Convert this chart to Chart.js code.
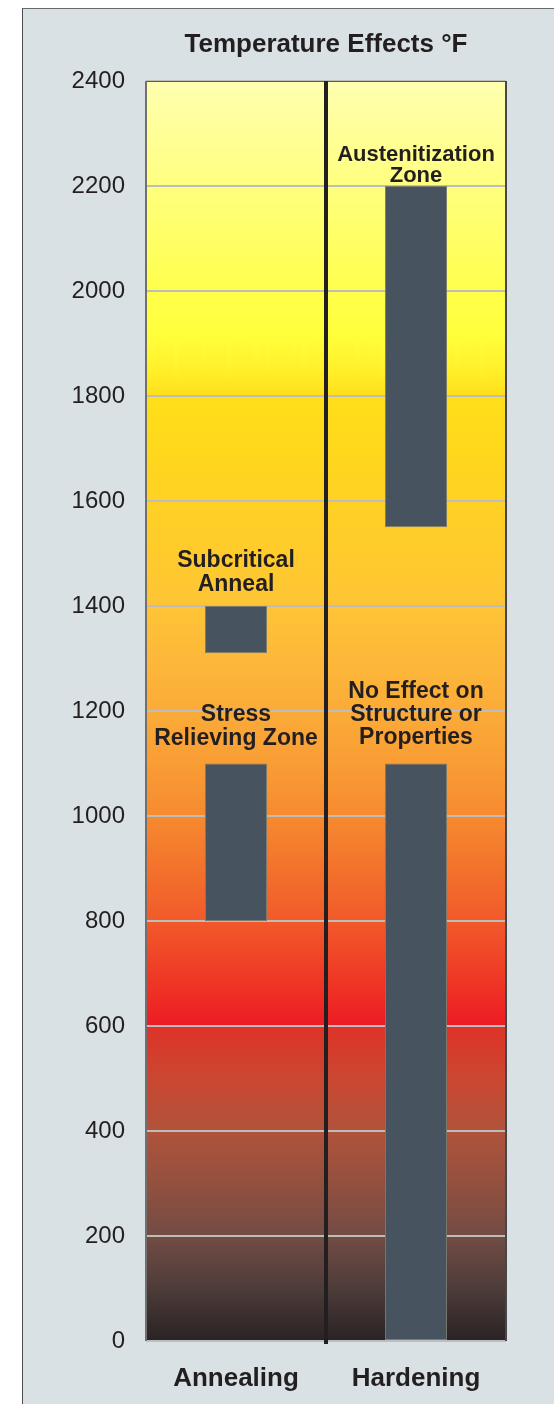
<!DOCTYPE html>
<html>
<head>
<meta charset="utf-8">
<script src="https://cdn.jsdelivr.net/npm/chart.js@4/dist/chart.umd.min.js"></script>
<style>
  html, body { margin: 0; padding: 0; background: #ffffff; overflow: hidden; }
  #panel {
    position: absolute; left: 22px; top: 8px; width: 620px; height: 1500px;
    background: #d9e1e5; border-left: 1.5px solid #4d4d4d; border-top: 1px solid #6a6a6a;
  }
  #chart { position: absolute; left: 0; top: 0; }
</style>
</head>
<body>
<div id="panel"></div>
<canvas id="chart" width="554" height="1404"></canvas>
<script>
// Process categories
const categories = ['Annealing', 'Hardening'];

// Temperature ranges (°F) for each process: [low, high]
const upperRanges = [[1310, 1400], [1550, 2200]];
const lowerRanges = [[800, 1100], [0, 1100]];

// Zone names printed above each range
const upperLabels = [['Subcritical', 'Anneal'], ['Austenitization', 'Zone']];
const lowerLabels = [['Stress', 'Relieving Zone'], ['No Effect on', 'Structure or', 'Properties']];

// Temperature axis
const yTickValues = [0, 200, 400, 600, 800, 1000, 1200, 1400, 1600, 1800, 2000, 2200, 2400];

const TEXT = '#231f20';
const FONT = '"Liberation Sans", Arial, Helvetica, sans-serif';
const BAR_FILL = '#47535e';
const BAR_EDGE = '#7c7d72';

// Heat colour ramp behind the bars, keyed by temperature
const heatStops = [
  [0, '#2a2224'], [100, '#4d3c3a'], [200, '#724c44'], [300, '#93503f'],
  [400, '#b0533b'], [500, '#cb4731'], [598, '#de3328'], [602, '#ed1c24'],
  [700, '#ef3b26'], [800, '#f15a2a'], [900, '#f3722c'], [1000, '#f68a2f'],
  [1100, '#f99d35'], [1200, '#fbab38'], [1300, '#fdb83a'], [1400, '#fec436'],
  [1500, '#ffcb2c'], [1600, '#ffd124'], [1700, '#ffd81c'], [1800, '#ffdf1a'],
  [1850, '#fff02a'], [1920, '#ffff3c'], [2000, '#ffff4c'], [2100, '#ffff66'],
  [2200, '#ffff80'], [2300, '#ffff98'], [2400, '#ffffb0']
];

// Label layout per bar: gap above bar top, line height, font
const upperLabelStyle = [
  { gap: 15, lineHeight: 24, font: 'bold 23px ' + FONT },
  { gap: 4, lineHeight: 21, font: 'bold 22px ' + FONT }
];
const lowerLabelStyle = [
  { gap: 19, lineHeight: 24, font: 'bold 23px ' + FONT },
  { gap: 20, lineHeight: 23, font: 'bold 23px ' + FONT }
];

const heatBackground = {
  id: 'heatBackground',
  beforeDraw(chart) {
    const { ctx, chartArea: a, scales: { y } } = chart;
    ctx.save();
    ctx.beginPath();
    ctx.rect(a.left, a.top, a.right - a.left, a.bottom - a.top);
    ctx.clip();
    const g = ctx.createLinearGradient(0, y.getPixelForValue(0), 0, y.getPixelForValue(2400));
    heatStops.forEach(([v, c]) => g.addColorStop(v / 2400, c));
    ctx.fillStyle = g;
    ctx.fillRect(a.left, a.top, a.right - a.left, a.bottom - a.top);

    // soft flame tongues where the gold turns into bright yellow
    const widths = [11, 15, 9, 17, 12, 14, 10, 16, 13, 9, 15, 12];
    const reach = [1830, 1870, 1820, 1880, 1840, 1860, 1825, 1875, 1845, 1835, 1865, 1850];
    const top = y.getPixelForValue(1960);
    let x = a.left, i = 0;
    while (x < a.right) {
      const w = widths[i % widths.length];
      const low = y.getPixelForValue(reach[i % reach.length]);
      const fg = ctx.createLinearGradient(0, top, 0, low);
      fg.addColorStop(0, 'rgba(255,255,64,0)');
      fg.addColorStop(0.55, 'rgba(255,255,60,0.45)');
      fg.addColorStop(1, 'rgba(255,250,50,0)');
      ctx.fillStyle = fg;
      ctx.globalAlpha = 0.8;
      ctx.fillRect(x + w * 0.25, top, w * 0.5, low - top);
      x += w; i++;
    }
    ctx.restore();
  }
};

const frameAndLabels = {
  id: 'frameAndLabels',
  afterDatasetsDraw(chart) {
    const { ctx, chartArea: a, scales: { x } } = chart;
    ctx.save();
    // plot frame
    ctx.strokeStyle = '#5a5a5a';
    ctx.lineWidth = 1;
    ctx.beginPath(); ctx.moveTo(a.left, a.top + 0.5); ctx.lineTo(a.right, a.top + 0.5); ctx.stroke();
    ctx.strokeStyle = '#707070';
    ctx.lineWidth = 2;
    ctx.beginPath(); ctx.moveTo(a.left, a.top); ctx.lineTo(a.left, a.bottom); ctx.stroke();
    ctx.strokeStyle = '#474747';
    ctx.beginPath(); ctx.moveTo(a.right, a.top); ctx.lineTo(a.right, a.bottom); ctx.stroke();
    // divider between the two processes
    const mid = (x.getPixelForValue(0) + x.getPixelForValue(1)) / 2;
    ctx.strokeStyle = TEXT;
    ctx.lineWidth = 4;
    ctx.beginPath(); ctx.moveTo(mid, a.top); ctx.lineTo(mid, a.bottom + 3); ctx.stroke();

    // zone names above each bar
    const sets = [[upperLabels, upperLabelStyle], [lowerLabels, lowerLabelStyle]];
    ctx.fillStyle = TEXT;
    ctx.textAlign = 'center';
    ctx.textBaseline = 'alphabetic';
    sets.forEach(([labels, styles], di) => {
      const meta = chart.getDatasetMeta(di);
      meta.data.forEach((bar, j) => {
        const lines = labels[j];
        const st = styles[j];
        const barTop = Math.min(bar.y, bar.base);
        ctx.font = st.font;
        lines.forEach((line, k) => {
          const baseY = barTop - st.gap - (lines.length - 1 - k) * st.lineHeight;
          ctx.fillText(line, bar.x, baseY);
        });
      });
    });
    ctx.restore();
  }
};

const barStyle = {
  grouped: false,
  barPercentage: 0.345,
  categoryPercentage: 1,
  backgroundColor: BAR_FILL,
  borderColor: BAR_EDGE,
  borderWidth: 1,
  borderSkipped: false
};

new Chart(document.getElementById('chart'), {
  type: 'bar',
  data: {
    labels: categories,
    datasets: [
      Object.assign({ label: 'Upper zone', data: upperRanges }, barStyle),
      Object.assign({ label: 'Lower zone', data: lowerRanges }, barStyle)
    ]
  },
  options: {
    responsive: false,
    devicePixelRatio: 1,
    animation: false,
    layout: { padding: { top: 29, right: 48, bottom: 0, left: 0 } },
    plugins: {
      legend: { display: false },
      tooltip: { enabled: false },
      colors: { enabled: false },
      title: {
        display: true,
        text: 'Temperature Effects °F',
        fullSize: false,
        color: TEXT,
        font: { family: FONT, size: 26, weight: 'bold', lineHeight: 1.2 },
        padding: { top: 0, bottom: 20.8 }
      }
    },
    scales: {
      x: {
        grid: { display: false, drawTicks: false },
        border: { display: false },
        ticks: {
          color: TEXT,
          padding: 22,
          font: { family: FONT, size: 26, weight: 'bold' }
        },
        afterFit(scale) { scale.height = 63; }
      },
      y: {
        min: 0,
        max: 2400,
        afterBuildTicks(scale) { scale.ticks = yTickValues.map(v => ({ value: v })); },
        grid: { color: '#bdbdbd', lineWidth: 2, drawTicks: false },
        border: { display: false },
        ticks: {
          color: TEXT,
          padding: 21,
          font: { family: FONT, size: 24 },
          callback: v => String(v)
        },
        afterFit(scale) { scale.width = 146; }
      }
    }
  },
  plugins: [heatBackground, frameAndLabels]
});
</script>
</body>
</html>
